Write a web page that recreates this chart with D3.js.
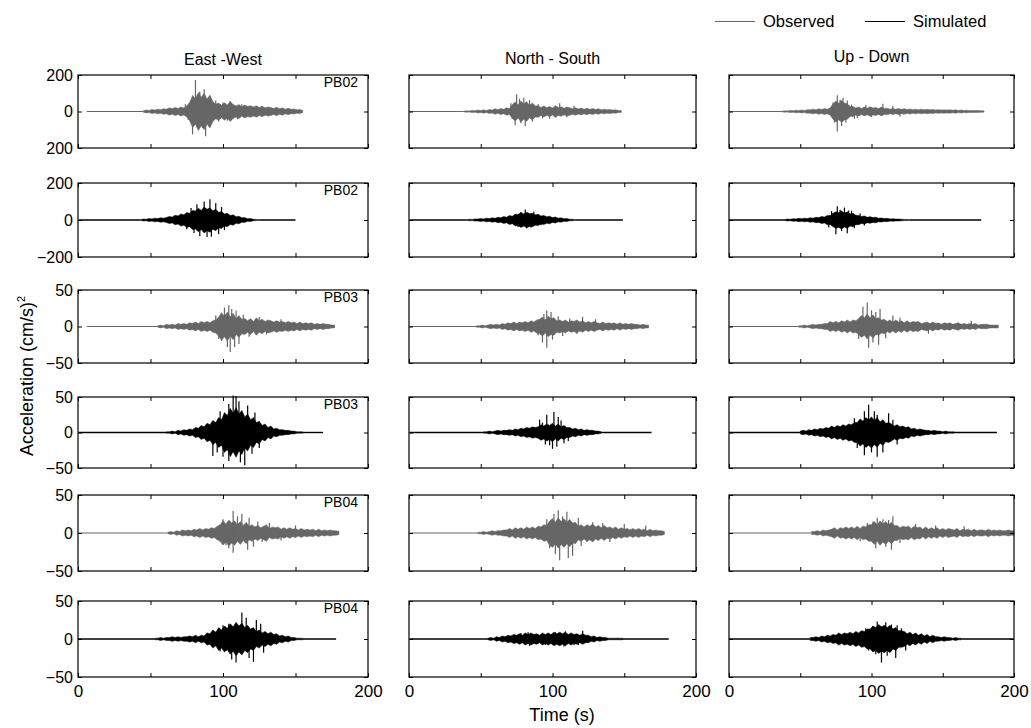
<!DOCTYPE html>
<html>
<head>
<meta charset="utf-8">
<script src="https://cdn.jsdelivr.net/npm/d3@7"></script>
<style>
  body { margin: 0; background: #fff; }
  svg { display: block; }
</style>
</head>
<body>
<svg id="chart" width="1031" height="728"></svg>
<script>
// Panel layout data
const components = ["East -West", "North - South", "Up - Down"];
const stations = ["PB02", "PB02", "PB03", "PB03", "PB04", "PB04"];
const rowKind = ["Observed", "Simulated", "Observed", "Simulated", "Observed", "Simulated"];
const yLimits = [200, 200, 50, 50, 50, 50];
const yTickLabels = [
    ["200", "0", "200"],
    ["200", "0", "\u2212200"],
    ["50", "0", "\u221250"],
    ["50", "0", "\u221250"],
    ["50", "0", "\u221250"],
    ["50", "0", "\u221250"]
];
const xTicks = [0, 50, 100, 150, 200];
const xTickLabels = [0, 100, 200];

// Envelope amplitude, one value every 2 s from the onset time
const STEP = 2;

// timing: [trace start, onset, trace end] in seconds
const ewTiming = [[6, 45, 155], [0.5, 43, 150], [6, 55, 177], [0.5, 61, 169], [0, 62, 180], [0, 53, 178]];
const nsTiming = [[0.5, 38, 148], [0.5, 40, 149], [0, 47, 167], [0.5, 52, 169], [0.5, 48, 178], [0.5, 55, 181]];
const udTiming = [[0, 37, 179], [0, 39, 177], [0, 49, 189], [0, 50, 188], [0, 58, 200], [0, 57, 200]];

const ewEnvelope = [
    [4,8,6,11,8,13,10,15, 13,20,15,22,17,25,19,30, 50,88,70,104,78,100,68,90,55, 40,46,34,48,36,55, 38,30,38,26,35,28,32,24,31,22,29,20,25, 22,16,23,15,20,13,18,12,14,9,11,6],
    [2,5,4,8,6,10,8,12,10, 14,19,16,26,22,33,28,40,36,52, 48,64,52,70,58,66,50,58,42,46, 32,36,24,28,18,20,12,13,7,8,4,3,2],
    [1,2,1,3,2,3,2,4,3,4, 3,5,4,6,4,7,5,7,5,8,9, 13,19,14,20,13,18,11,15,10, 11,8,11,7,12,8,10,7,9, 8,6,8,6,7,5,7,5,6,4,6,4,5,4,5,3,4,3,4,3,3,2,2],
    [1,1,2,1,3,2,4,3,5,4, 7,6,10,8,13,11,17,14,21,18, 28,24,34,27,35,26,31,22,26,18, 21,14,16,10,12,7,9,5,6,4, 4,3,3,2,2,1,1,1],
    [1,2,1,3,2,4,3,4,3,5, 4,6,4,6,5,7,6,9, 11,16,12,17,13,16,11,15,10,14,9,11, 8,10,7,9,11,6,8,7,8,5, 7,5,7,5,6,4,6,4,5,4,5,3,5,3,4,3,4,3,3,2],
    [1,1,2,1,2,2,3,2,3,2, 3,3,4,3,5,3,5, 4,8,7,12,9,15,12,17,14,20, 16,22,17,21,15,18,13,15,10,12, 8,10,7,9,6,7,4,5,3,4,2,2,1,1,1]
];
const nsEnvelope = [
    [2,4,3,6,4,8,5,9,6, 11,8,15,10,17,12,20,16, 38,52,36,58,42,54,34,46,30, 32,22,30,20,28,19,33,22,26,18,24, 21,15,20,14,19,13,18,12,16,11,15,10,13,9,11,8,9,6,5],
    [2,4,3,6,5,8,6,10,8, 12,9,15,12,19,15,24,20,32, 30,40,33,42,35,36,28,30,22, 24,17,20,13,16,10,12,7,8,4,4,2],
    [1,1,2,1,2,3,2,3,2,4, 3,5,4,6,4,6,5,7,5,8,6,9, 10,13,9,14,11,12,8,9, 7,9,6,8,7,9,6,8,5,7,5,7,5, 4,6,4,5,4,5,3,5,3,4,3,4,3,3,2,3,2,2],
    [1,1,2,1,2,3,2,3,3,4, 3,5,4,6,5,7,6,8,7, 8,11,9,12,10,13,9,12,8,10,7, 7,5,6,4,5,3,4,3,3,2,2,1],
    [1,1,2,1,2,3,2,3,3,4, 4,6,4,7,5,7,5,8,6,8,6,9,8,11,10, 16,19,14,20,15,19,14,18,13,14, 9,11,8,11,9,12,8,10,7,10,7,8, 6,8,5,7,5,6,4,6,4,6,4,5,3,5,3,4,3,3,2],
    [1,2,1,3,2,4,3,5,4, 6,5,7,5,8,6,8,6,7, 5,8,6,8,6,9,7,9,7,9,6,8,6,7,5,7,5, 5,3,4,2,3,2,2,1,1,1,1,1,1]
];
const udEnvelope = [
    [2,4,3,6,4,7,5,8,6,10, 9,13,10,15,11,16,13,20, 42,58,45,60,46,42,28, 27,19,25,17,24,18,26,19,22,16,24,17, 18,13,17,12,16,12,15,11,14,10,13,9,13,10,12,9,11,8,10,8,9,8, 9,7,9,6,8,6,7,5,6,5,5,4,4],
    [3,5,4,7,6,9,7,10,8, 12,10,15,13,19,16,25,24, 36,44,40,48,38,44,33,36,26, 25,19,22,15,18,13,15,10,11, 8,9,6,7,5,5,4,3,3,2],
    [1,1,2,1,2,3,2,3,3,4, 4,7,5,7,5,8,6,9,6,9,8, 11,15,12,17,12,16,11,12,9, 10,7,9,6,9,6,8,5,8,5,7,6,7,4, 5,6,4,6,4,5,3,5,4,5,3,4,5,3,4,3,4,3,4,2,3,3,3,2,2,2,2],
    [2,3,2,4,3,5,4,6,5, 7,6,9,7,10,8,11,9,12,11,14, 14,19,16,21,18,22,17,21,15,18,13,14, 12,9,11,8,9,7,8,5,6,4,5, 4,3,3,2,3,2,2,1,2,1,1,1],
    [2,2,3,2,4,3,4, 5,7,4,7,6,8,6,8,6,9,6,9,8,11, 11,15,11,16,12,15,11,14,10, 10,7,9,8,9,6,9,7,8,5,8,5,7,5,7,4,6,4,6, 5,4,6,3,5,4,5,3,5,3,4,4,3,5,3,4,3,4,3,3,4,3,3],
    [2,2,3,2,4,3,5,4, 6,5,8,6,8,7,9,7,10,8,11,10,13, 13,17,15,19,16,18,15,18,13,15,11,11, 10,7,9,6,8,5,7,4,6,3,5,3, 3,2,3,2,2,1,2,1,1]
];

// Peak excursions [time s, amplitude]
const ewSpikes = [
    [[74,40],[76,-45],[79,-125],[81,173],[84,110],[87,122],[86,-90],[88,-136],[90,-80],[95,60],[97,-55],[100,50],[103,-50],[105,56],[110,-42],[113,40]],
    [[75,-50],[78,65],[80,-70],[82,85],[84,-88],[87,100],[89,-92],[91,112],[92,-90],[95,90],[97,-75],[99,70],[101,-55]],
    [[95,15],[97,-17],[99,-20],[101,26],[103,-28],[104,29],[105,-35],[106,24],[108,-28],[109,22],[111,-24],[114,16],[118,-14],[125,13],[130,-11],[140,10]],
    [[93,-33],[96,-28],[98,30],[100,-34],[104,40],[104,-40],[107,52],[109,51],[111,44],[112,-42],[115,-46],[117,38],[120,-30],[122,28],[125,-22]],
    [[100,18],[102,-16],[104,-20],[107,29],[107,-26],[110,22],[113,25],[117,-22],[118,20],[121,-18],[124,15],[127,-12],[132,13],[140,-10],[150,10]],
    [[98,-16],[100,18],[104,20],[106,-27],[109,-31],[113,35],[116,28],[118,-25],[121,-30],[123,25],[126,20],[128,-18]]
];
const nsSpikes = [
    [[71,45],[72,-40],[74,-75],[75,95],[77,70],[78,-65],[80,75],[81,-81],[84,62],[86,-55],[90,40],[93,-38],[98,-40],[105,45],[110,-32],[115,32]],
    [[74,32],[76,-38],[78,42],[81,57],[82,-45],[85,-40],[87,45],[90,32],[92,-28]],
    [[90,-12],[93,-22],[94,17],[96,22],[96,-29],[99,20],[100,-18],[104,14],[107,-13],[112,11],[117,-10],[121,13],[130,10]],
    [[91,18],[93,14],[95,-17],[96,25],[98,-18],[100,-23],[101,29],[103,-20],[104,22],[106,17],[108,-15],[111,-12]],
    [[96,18],[98,-20],[101,25],[102,-28],[104,30],[105,-36],[107,22],[110,28],[111,-33],[114,-30],[118,20],[120,-17],[124,-12],[128,14],[135,13],[140,-12],[150,12],[165,10]],
    [[78,8],[83,9],[84,-9],[95,-8],[102,9],[108,-10],[109,10],[115,-8],[118,-8],[121,11]]
];
const udSpikes = [
    [[73,50],[74,-60],[76,89],[76,-110],[78,65],[79,-80],[80,75],[82,-60],[83,60],[86,38],[88,-40],[90,-35],[96,35],[100,-30],[108,42],[115,30],[120,-28]],
    [[70,-40],[72,48],[75,-77],[76,74],[78,55],[79,-60],[81,67],[83,-72],[84,52],[86,50],[88,-45],[92,35],[95,-30]],
    [[91,-17],[94,27],[97,33],[98,-29],[100,22],[101,-22],[103,20],[105,-25],[106,24],[110,-16],[115,15],[120,12],[140,-10],[170,8]],
    [[88,20],[90,-22],[95,30],[95,-32],[98,39],[100,-28],[102,30],[104,25],[104,-34],[108,-28],[112,27],[115,18],[118,-17]],
    [[92,-11],[97,13],[101,15],[103,-20],[104,20],[106,-16],[108,18],[110,-18],[112,17],[114,-22],[115,22],[120,-13],[131,12],[145,10],[165,9]],
    [[96,14],[98,-15],[101,17],[103,-20],[104,23],[107,-31],[110,22],[111,-22],[114,19],[117,-25],[118,18],[121,14],[124,-15]]
];

const FONT = "'Liberation Sans', Arial, Helvetica, sans-serif";
const GRAY = "#666666";
const BLACK = "#000000";

const timings = [ewTiming, nsTiming, udTiming];
const envelopes = [ewEnvelope, nsEnvelope, udEnvelope];
const spikes = [ewSpikes, nsSpikes, udSpikes];

// Panel geometry
const colLeft = [78, 409, 729];
const colWidth = [290, 287, 285];
const rowTop = [75, 183, 290, 397, 495, 601];
const rowBottom = [148, 257, 363, 468, 571, 677];

const svg = d3.select("#chart").attr("font-family", FONT);

components.forEach((comp, c) => {
    const x = d3.scaleLinear().domain([0, 200]).range([colLeft[c], colLeft[c] + colWidth[c]]);

    // column title
    svg.append("text")
        .attr("x", x(100))
        .attr("y", [65, 64, 62][c])
        .attr("text-anchor", "middle")
        .attr("font-size", 16)
        .text(comp);

    rowTop.forEach((top, r) => {
        const lim = yLimits[r];
        const y = d3.scaleLinear().domain([-lim, lim]).range([rowBottom[r], top]);
        const color = rowKind[r] === "Observed" ? GRAY : BLACK;
        const lineW = rowKind[r] === "Observed" ? 1 : 1.4;
        const g = svg.append("g");

        const [start, onset, end] = timings[c][r];
        const env = envelopes[c][r];
        const envEnd = onset + (env.length - 1) * STEP;
        const flat = d3.line().x(d => x(d)).y(() => y(0));

        // quiet lead-in and tail
        g.append("path")
            .attr("d", flat([start, onset]))
            .attr("fill", "none")
            .attr("stroke", color)
            .attr("stroke-width", lineW);
        if (end > envEnd) {
            g.append("path")
                .attr("d", flat([envEnd, end]))
                .attr("fill", "none")
                .attr("stroke", color)
                .attr("stroke-width", lineW);
        }

        // shaking envelope
        const area = d3.area()
            .x((d, i) => x(onset + i * STEP))
            .y0(d => y(-d))
            .y1(d => y(d));
        g.append("path")
            .datum(env)
            .attr("d", area)
            .attr("fill", color)
            .attr("stroke", color)
            .attr("stroke-width", 0.5);

        // peak excursions
        g.selectAll("line.spike")
            .data(spikes[c][r])
            .enter()
            .append("line")
            .attr("class", "spike")
            .attr("x1", d => x(d[0]))
            .attr("x2", d => x(d[0]))
            .attr("y1", y(0))
            .attr("y2", d => y(d[1]))
            .attr("stroke", color)
            .attr("stroke-width", 1.2);

        // axes: inward ticks, box
        const bottom = g.append("g")
            .attr("transform", `translate(0,${rowBottom[r]})`)
            .call(d3.axisBottom(x)
                .tickValues(xTicks)
                .tickSize(-4)
                .tickPadding(8)
                .tickFormat(d => (r === 5 && xTickLabels.includes(d)) ? d : ""));
        bottom.attr("font-size", 17).attr("font-family", FONT);

        g.append("g")
            .attr("transform", `translate(0,${top})`)
            .call(d3.axisTop(x).tickValues(xTicks).tickSize(-4).tickFormat(""));

        const left = g.append("g")
            .attr("transform", `translate(${x(0)},0)`)
            .call(d3.axisLeft(y)
                .tickValues([lim, 0, -lim])
                .tickSize(-4)
                .tickPadding(5)
                .tickFormat((d, i) => c === 0 ? yTickLabels[r][i] : ""));
        left.attr("font-size", 16).attr("font-family", FONT);

        g.append("g")
            .attr("transform", `translate(${x(200)},0)`)
            .call(d3.axisRight(y).tickValues([lim, 0, -lim]).tickSize(-4).tickFormat(""));

        g.selectAll(".domain").remove();

        g.append("rect")
            .attr("x", x(0))
            .attr("y", top)
            .attr("width", x(200) - x(0))
            .attr("height", rowBottom[r] - top)
            .attr("fill", "none")
            .attr("stroke", "#000")
            .attr("stroke-width", 1.2);

        // station label
        if (c === 0) {
            g.append("text")
                .attr("x", x(200) - 10)
                .attr("y", top + 12)
                .attr("text-anchor", "end")
                .attr("font-size", 14)
                .text(stations[r]);
        }
    });
});

// axis titles
svg.append("text")
    .attr("transform", "translate(33,376) rotate(-90)")
    .attr("text-anchor", "middle")
    .attr("font-size", 18)
    .text("Acceleration (cm/s)")
    .append("tspan")
    .attr("dy", -8)
    .attr("font-size", 11)
    .text("2");

svg.append("text")
    .attr("x", 562)
    .attr("y", 721)
    .attr("text-anchor", "middle")
    .attr("font-size", 18)
    .text("Time (s)");

// legend
const legendItems = [
    { label: "Observed", color: GRAY, x: 715 },
    { label: "Simulated", color: BLACK, x: 865 }
];
const legend = svg.append("g");
legendItems.forEach(d => {
    legend.append("line")
        .attr("x1", d.x).attr("x2", d.x + 40)
        .attr("y1", 21.5).attr("y2", 21.5)
        .attr("stroke", d.color)
        .attr("stroke-width", 1);
    legend.append("text")
        .attr("x", d.x + 48)
        .attr("y", 27)
        .attr("font-size", 16.5)
        .text(d.label);
});
</script>
</body>
</html>
